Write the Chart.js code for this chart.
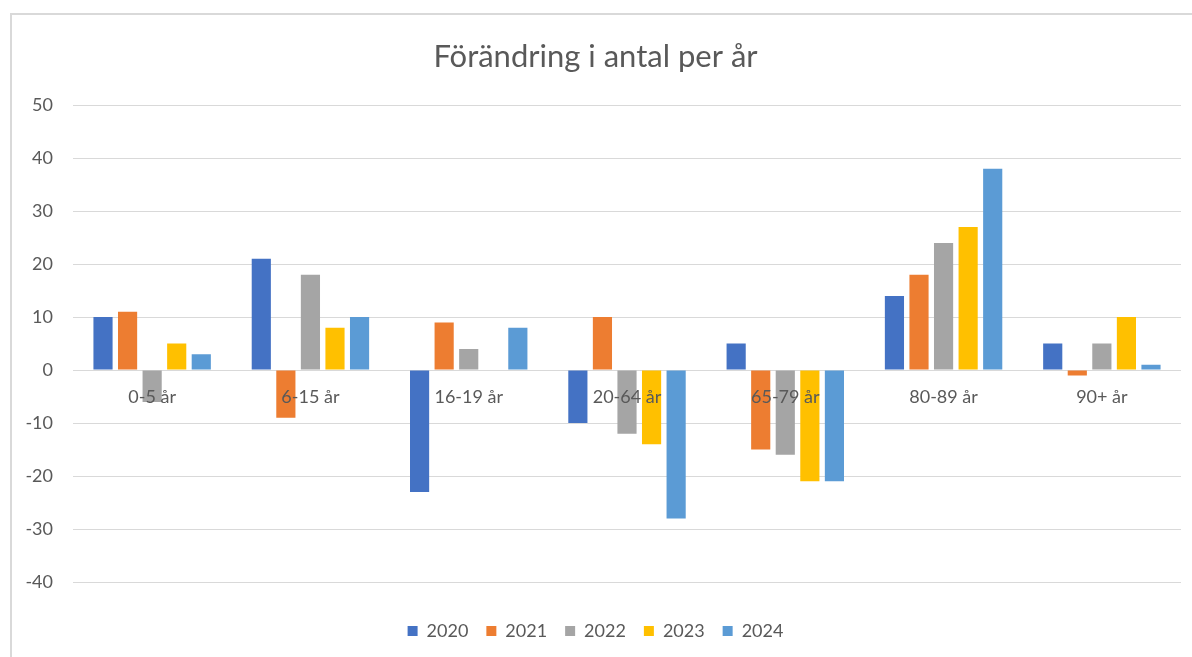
<!DOCTYPE html>
<html>
<head>
<meta charset="utf-8">
<script src="https://cdn.jsdelivr.net/npm/chart.js@4"></script>
<style>
  html, body { margin: 0; padding: 0; background: #fff; }
  #wrap { position: relative; width: 1192px; height: 657px; overflow: hidden; }
  #ram { position: absolute; left: 10px; top: 13px; width: 1200px; height: 700px;
         border-left: 2px solid #d9d9d9; border-top: 2px solid #d9d9d9; }
  #graf { position: absolute; left: 0; top: 0; }
</style>
</head>
<body>
<div id="wrap">
  <div id="ram"></div>
  <canvas id="graf" width="1192" height="657"></canvas>
</div>
<script>
const kategorier = ['0-5 år', '6-15 år', '16-19 år', '20-64 år', '65-79 år', '80-89 år', '90+ år'];
const ar = ['2020', '2021', '2022', '2023', '2024'];
const v2020 = [10, 21, -23, -10, 5, 14, 5];
const v2021 = [11, -9, 9, 10, -15, 18, -1];
const v2022 = [-6, 18, 4, -12, -16, 24, 5];
const v2023 = [5, 8, 0, -14, -21, 27, 10];
const v2024 = [3, 10, 8, -28, -21, 38, 1];
const farger = ['#4472C4', '#ED7D31', '#A5A5A5', '#FFC000', '#5B9BD5'];

const serier = [v2020, v2021, v2022, v2023, v2024];
const textFarg = '#595959';
const typsnitt = 'Lato, "Open Sans", sans-serif';

const ctx = document.getElementById('graf').getContext('2d');
new Chart(ctx, {
  type: 'bar',
  data: {
    labels: kategorier,
    datasets: serier.map((d, i) => ({
      label: ar[i],
      data: d,
      backgroundColor: farger[i],
      borderWidth: 0,
      categoryPercentage: 0.776,
      barPercentage: 0.78
    }))
  },
  options: {
    responsive: false,
    animation: false,
    layout: { padding: { left: 10, right: 11, top: 0, bottom: 7 } },
    plugins: {
      title: {
        display: true,
        text: 'Förändring i antal per år',
        color: textFarg,
        font: { family: typsnitt, size: 31, weight: '400' },
        padding: { top: 38, bottom: 30 }
      },
      subtitle: {
        // tom rad som ger luft mellan diagram och förklaring
        display: true,
        text: '',
        position: 'bottom',
        weight: 500,
        font: { size: 22, lineHeight: 1 },
        padding: 0
      },
      legend: {
        position: 'bottom',
        labels: {
          boxWidth: 10,
          boxHeight: 10,
          padding: 18,
          color: textFarg,
          font: { family: typsnitt, size: 18 }
        }
      },
      tooltip: { enabled: false }
    },
    scales: {
      x: {
        position: { y: 0 },
        grid: { display: false },
        border: { display: false },
        // etiketterna ska ligga ovanpå staplarna
        ticks: { z: 1, color: textFarg, padding: 8, font: { family: typsnitt, size: 18 } }
      },
      y: {
        min: -40,
        max: 50,
        ticks: { stepSize: 10, color: textFarg, padding: 20, font: { family: typsnitt, size: 18 } },
        grid: { color: '#d9d9d9', lineWidth: 1, drawTicks: false },
        border: { display: false },
        afterFit: s => { s.width = 63; }
      }
    }
  }
});
</script>
</body>
</html>
